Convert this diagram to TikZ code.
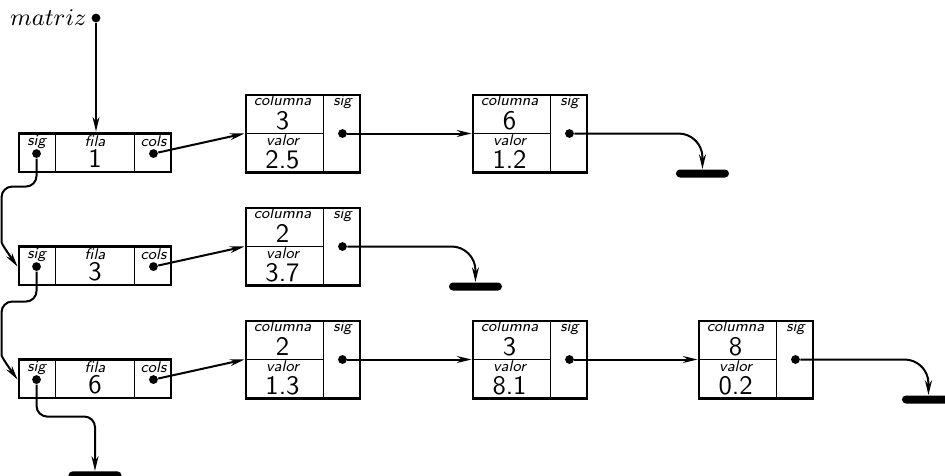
\documentclass[tikz,border=0pt]{standalone}
\usepackage{tikz}
\usetikzlibrary{arrows.meta, positioning, calc}

\begin{document}
\begin{tikzpicture}[
    x=0.375pt, y=-0.375pt,
    >={Stealth[length=5.5pt, width=2.6pt]},
    link/.style={->, line width=0.75pt},
    record/.style={draw, line width=1.1pt, inner sep=0pt, minimum width=42.75pt, minimum height=28.9pt},
    rowrec/.style={draw, line width=1.1pt, inner sep=0pt, minimum width=57pt, minimum height=14.6pt},
    divider/.style={line width=0.5pt},
    dot/.style={circle, fill, inner sep=0pt, minimum size=3.3pt},
    tag/.style={font=\sffamily\itshape\fontsize{5.8}{6}\selectfont, inner sep=0pt},
    num/.style={font=\sffamily\fontsize{10}{10}\selectfont, inner sep=0pt},
    nullbar/.style={fill, rounded corners=1.5pt, inner sep=0pt, minimum width=19.9pt, minimum height=3pt},
]
    \useasboundingbox (0,0) rectangle (945,475);

    % Column records: name / x / y / columna / valor
    \foreach \n/\x/\y/\col/\val in {c11/303/133.5/3/2.5, c12/530/133.5/6/1.2, c21/303/246.5/2/3.7,
                                    c31/303/359.5/2/1.3, c32/530/359.5/3/8.1, c33/756/359.5/8/0.2} {
        \node[record] (\n) at (\x,\y) {};
        \draw[divider] ($(\n.north east)+(-38,0)$) -- ($(\n.south east)+(-38,0)$);
        \draw[divider] (\n.west) -- ($(\n.east)+(-38,0)$);
        \node[tag] at ($(\n.north west)+(38,7)$) {columna};
        \node[num] at ($(\n.north west)+(38,27)$) {\col};
        \node[tag] at ($(\n.west)+(38,7)$) {valor};
        \node[num] at ($(\n.west)+(38,26)$) {\val};
        \node[tag] at ($(\n.north east)+(-19,8)$) {sig};
        \node[dot] (\n s) at ($(\n.east)+(-19,0)$) {};
    }

    % Row records: name / y / fila
    \foreach \n/\y/\f in {r1/152.5/1, r2/265.5/3, r3/378.5/6} {
        \node[rowrec] (\n) at (95,\y) {};
        \draw[divider] ($(\n.north west)+(38,0)$) -- ($(\n.south west)+(38,0)$);
        \draw[divider] ($(\n.north east)+(-38,0)$) -- ($(\n.south east)+(-38,0)$);
        \node[tag] at ($(\n.north west)+(19,10)$) {sig};
        \node[tag] at ($(\n.north)+(0,10)$) {fila};
        \node[tag] at ($(\n.north east)+(-19,10)$) {cols};
        \node[num] at ($(\n.north)+(0,27)$) {\f};
        \node[dot] (\n s) at ($(\n.north west)+(19,22)$) {};
        \node[dot] (\n c) at ($(\n.north east)+(-19,22)$) {};
    }

    % Head pointer
    \node[dot] (m) at (96,18) {};
    \node[left=1.5pt of m, inner sep=0pt, font=\fontsize{9.5}{10}\selectfont] (mname) {$matriz$};
    \draw[link] (m) -- (m |- r1.north);

    % Row to first column
    \draw[link] (r1c) -- (c11.west);
    \draw[link] (r2c) -- (c21.west);
    \draw[link] (r3c) -- (c31.west);

    % Column to column
    \draw[link] (c11s) -- (c12.west);
    \draw[link] (c31s) -- (c32.west);
    \draw[link] (c32s) -- (c33.west);

    % Row to row
    \draw[link, rounded corners=4pt] (r1s) -- ++(0,33) -- ++(-35,0) -- ++(0,45)
        .. controls +(0,12) and +(-10,-14) .. (r2.west |- r2s);
    \draw[link, rounded corners=4pt] (r2s) -- ++(0,35) -- ++(-35,0) -- ++(0,43)
        .. controls +(0,12) and +(-10,-14) .. (r3.west |- r3s);

    % Null ends
    \node[nullbar] (z12) at ($(c12.south east)+(114,0)$) {};
    \node[nullbar] (z21) at ($(c21.south east)+(114,0)$) {};
    \node[nullbar] (z33) at ($(c33.south east)+(114,0)$) {};
    \node[nullbar] (z3) at ($(r3.south)+(0,76)$) {};
    \draw[link, rounded corners=9pt] (c12s) -| (z12.north);
    \draw[link, rounded corners=9pt] (c21s) -| (z21.north);
    \draw[link, rounded corners=9pt] (c33s) -| (z33.north);
    \draw[link, rounded corners=4pt] (r3s) -- ++(0,37) -| (z3.north);
\end{tikzpicture}
\end{document}
